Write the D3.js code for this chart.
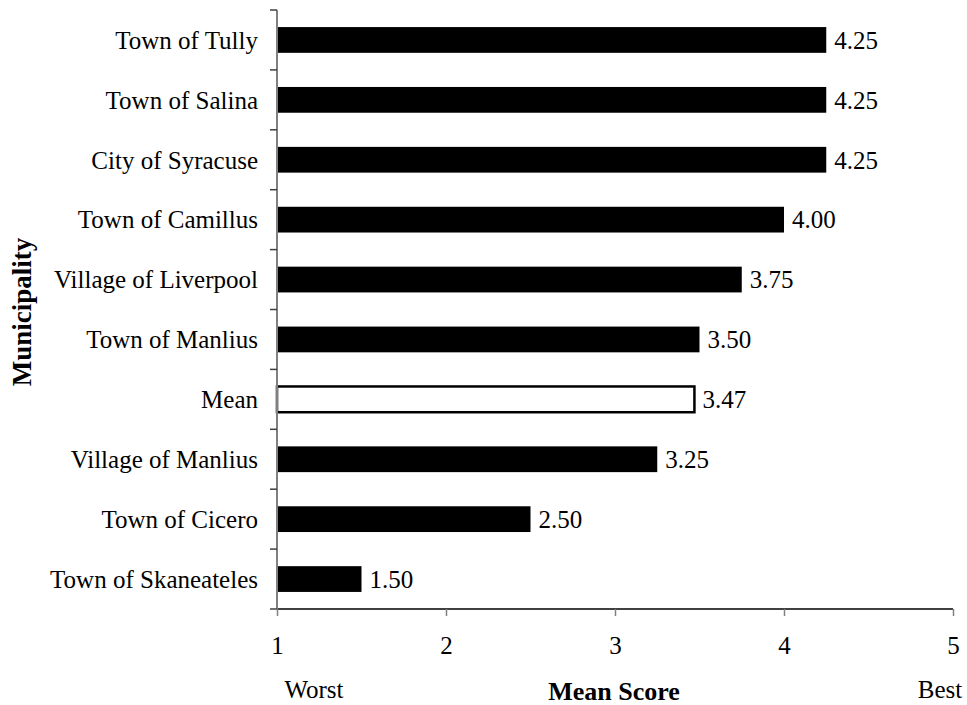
<!DOCTYPE html>
<html><head><meta charset="utf-8">
<script src="https://cdn.jsdelivr.net/npm/d3@7"></script>
<style>body{margin:0;background:#fff}svg{display:block}text{font-family:"Liberation Serif","Times New Roman",serif;fill:#000}</style>
</head><body>
<svg id="c" width="967" height="705"></svg>
<script>
const categories = ["Town of Tully","Town of Salina","City of Syracuse","Town of Camillus","Village of Liverpool","Town of Manlius","Mean","Village of Manlius","Town of Cicero","Town of Skaneateles"];
const values = [4.25,4.25,4.25,4.00,3.75,3.50,3.47,3.25,2.50,1.50];
const xTicks = [1,2,3,4,5];
const highlight = "Mean";

const svg = d3.select("#c");
const x = d3.scaleLinear().domain([1,5]).range([277,953]);
const y = d3.scaleBand().domain(categories).range([10,609]).paddingInner(0.57).paddingOuter(0.285);
const data = categories.map((c,i)=>({c, v: values[i]}));
const F = "Liberation Serif";

// bars
svg.selectAll("rect.bar").data(data).enter().append("rect")
  .attr("x", x(1))
  .attr("y", d=>y(d.c))
  .attr("width", d=>x(d.v)-x(1))
  .attr("height", y.bandwidth())
  .attr("fill", d=>d.c===highlight?"#fff":"#000")
  .attr("stroke", d=>d.c===highlight?"#000":"none")
  .attr("stroke-width", 2.5);

// value labels
svg.selectAll("text.val").data(data).enter().append("text")
  .attr("x", d=>x(d.v)+8)
  .attr("y", d=>y(d.c)+y.bandwidth()/2)
  .attr("dy","0.35em")
  .style("font-family",F).style("font-size","25px")
  .text(d=>d.v.toFixed(2));

// x axis
const xAxis = d3.axisBottom(x).tickValues(xTicks).tickSize(7).tickPadding(20).tickFormat(d3.format("d"));
const gx = svg.append("g").attr("transform","translate(0,609)").call(xAxis);
gx.attr("font-family",F);
gx.select(".domain").attr("stroke","#000").attr("stroke-width",1.5).attr("d","M277,0H953");
gx.selectAll(".tick line").attr("stroke","#808080").attr("stroke-width",1.5);
gx.selectAll(".tick text").style("font-family",F).style("font-size","25px").attr("fill","#000");

// y axis with ticks at category boundaries
const gy = svg.append("g").attr("transform","translate(277,0)");
gy.append("line").attr("x1",0).attr("x2",0).attr("y1",10).attr("y2",609).attr("stroke","#808080").attr("stroke-width",2);
const bounds = d3.range(categories.length+1).map(i=>y.range()[0]+i*(y.range()[1]-y.range()[0])/categories.length);
gy.selectAll("line.t").data(bounds).enter().append("line")
  .attr("x1",-7).attr("x2",0).attr("y1",d=>d).attr("y2",d=>d)
  .attr("stroke","#404040").attr("stroke-width",1.5);
gy.selectAll("text.lab").data(categories).enter().append("text")
  .attr("x",-19).attr("y",d=>y(d)+y.bandwidth()/2).attr("dy","0.35em")
  .attr("text-anchor","end").style("font-family",F).style("font-size","25px").text(d=>d);

// axis titles
svg.append("text").attr("x",614).attr("y",700).attr("text-anchor","middle")
  .style("font-family",F).style("font-size","26px").style("font-weight","bold").text("Mean Score");
svg.append("text").attr("x",314).attr("y",698).attr("text-anchor","middle")
  .style("font-family",F).style("font-size","25px").text("Worst");
svg.append("text").attr("x",940).attr("y",698).attr("text-anchor","middle")
  .style("font-family",F).style("font-size","25px").text("Best");
svg.append("text").attr("transform","translate(31,312) rotate(-90)").attr("text-anchor","middle")
  .style("font-family",F).style("font-size","27px").style("font-weight","bold").text("Municipality");
</script>
</body></html>
